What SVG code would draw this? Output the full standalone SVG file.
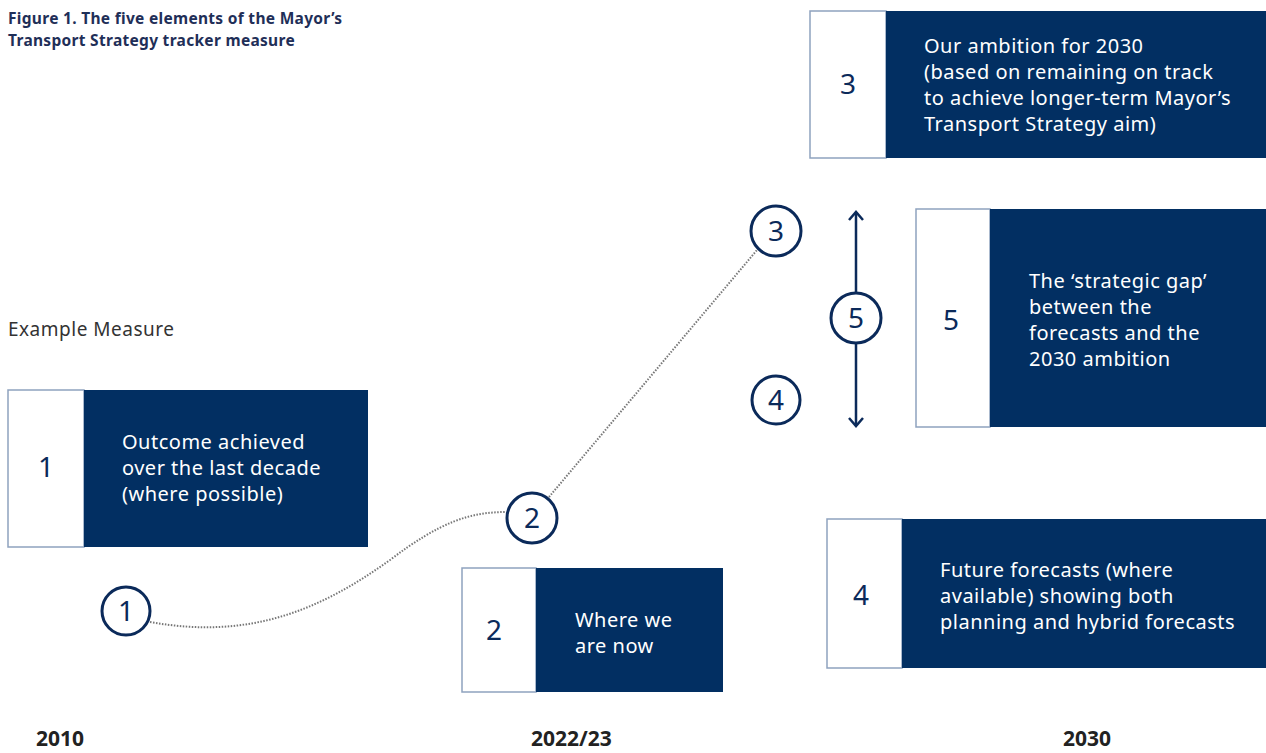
<svg xmlns="http://www.w3.org/2000/svg" width="1266" height="753" viewBox="0 0 1266 753">
<style>
.title{font-family:"Noto Sans","Liberation Sans",sans-serif;font-size:15.5px;font-weight:bold;fill:#1f2f58;letter-spacing:0.3px}
.label{font-family:"Noto Sans","Liberation Sans",sans-serif;font-size:19px;fill:#333;letter-spacing:0.5px}
.year{font-family:"Noto Sans","Liberation Sans",sans-serif;font-size:21px;font-weight:bold;fill:#222}
.num{font-family:"Noto Sans","Liberation Sans",sans-serif;font-size:28px;fill:#0b2a5a;text-anchor:middle}
.ctext{font-family:"Noto Sans","Liberation Sans",sans-serif;font-size:28px;fill:#0b2a5a;text-anchor:middle}
.btext{font-family:"Noto Sans","Liberation Sans",sans-serif;font-size:20px;fill:#ffffff;letter-spacing:0.5px}
.white{fill:#ffffff;stroke:#8ea2be;stroke-width:1.5}
.navy{fill:#022f62}
.circ{fill:#ffffff;stroke:#0b2a5a;stroke-width:3}
.dot{fill:none;stroke:#777;stroke-width:2;stroke-dasharray:1.5 1.5}
.arr{fill:none;stroke:#0b2a5a;stroke-width:2.5}
</style>
<rect width="1266" height="753" fill="#ffffff"/>
<text class="title" x="8" y="24">Figure 1. The five elements of the Mayor’s</text>
<text class="title" x="8" y="46">Transport Strategy tracker measure</text>
<text class="label" x="8" y="336">Example Measure</text>

<g id="connectors">
<path class="dot" d="M150,622 C250,640 320,610 390,560 C440,522 470,512 506,512"/>
<path class="dot" d="M549,497 L757,250"/>
<path class="arr" d="M856,212 V292 M856,344 V426"/>
<path class="arr" d="M849,220 L856,212 L863,220 M849,418 L856,426 L863,418"/>
</g>

<g id="box1">
<rect class="white" x="8" y="390" width="76" height="157"/>
<rect class="navy" x="84" y="390" width="284" height="157"/>
<text class="num" x="46" y="477">1</text>
<text class="btext" x="122" y="449">Outcome achieved</text>
<text class="btext" x="122" y="475">over the last decade</text>
<text class="btext" x="122" y="501">(where possible)</text>
</g>

<g id="box2">
<rect class="white" x="462" y="568" width="74" height="124"/>
<rect class="navy" x="536" y="568" width="187" height="124"/>
<text class="num" x="494" y="640">2</text>
<text class="btext" x="575" y="627">Where we</text>
<text class="btext" x="575" y="653">are now</text>
</g>

<g id="box3">
<rect class="white" x="810" y="11" width="76" height="147"/>
<rect class="navy" x="886" y="11" width="380" height="147"/>
<text class="num" x="848" y="94">3</text>
<text class="btext" x="924" y="53">Our ambition for 2030</text>
<text class="btext" x="924" y="79">(based on remaining on track</text>
<text class="btext" x="924" y="105">to achieve longer-term Mayor’s</text>
<text class="btext" x="924" y="131">Transport Strategy aim)</text>
</g>

<g id="box5">
<rect class="white" x="916" y="209" width="74" height="218"/>
<rect class="navy" x="990" y="209" width="276" height="218"/>
<text class="num" x="951" y="330">5</text>
<text class="btext" x="1029" y="288">The ‘strategic gap’</text>
<text class="btext" x="1029" y="314">between the</text>
<text class="btext" x="1029" y="340">forecasts and the</text>
<text class="btext" x="1029" y="366">2030 ambition</text>
</g>

<g id="box4">
<rect class="white" x="827" y="519" width="75" height="149"/>
<rect class="navy" x="902" y="519" width="364" height="149"/>
<text class="num" x="861" y="605">4</text>
<text class="btext" x="940" y="577">Future forecasts (where</text>
<text class="btext" x="940" y="603">available) showing both</text>
<text class="btext" x="940" y="629">planning and hybrid forecasts</text>
</g>

<g id="c1"><circle class="circ" cx="126" cy="611" r="24"/><text class="ctext" x="126" y="621">1</text></g>
<g id="c2"><circle class="circ" cx="532" cy="518" r="25"/><text class="ctext" x="532" y="528">2</text></g>
<g id="c3"><circle class="circ" cx="776" cy="231" r="25"/><text class="ctext" x="776" y="241">3</text></g>
<g id="c5"><circle class="circ" cx="856" cy="318" r="25"/><text class="ctext" x="856" y="328">5</text></g>
<g id="c4"><circle class="circ" cx="776" cy="400" r="24"/><text class="ctext" x="776" y="410">4</text></g>

<text class="year" x="36" y="746">2010</text>
<text class="year" x="531" y="746">2022/23</text>
<text class="year" x="1063" y="746">2030</text>
</svg>
